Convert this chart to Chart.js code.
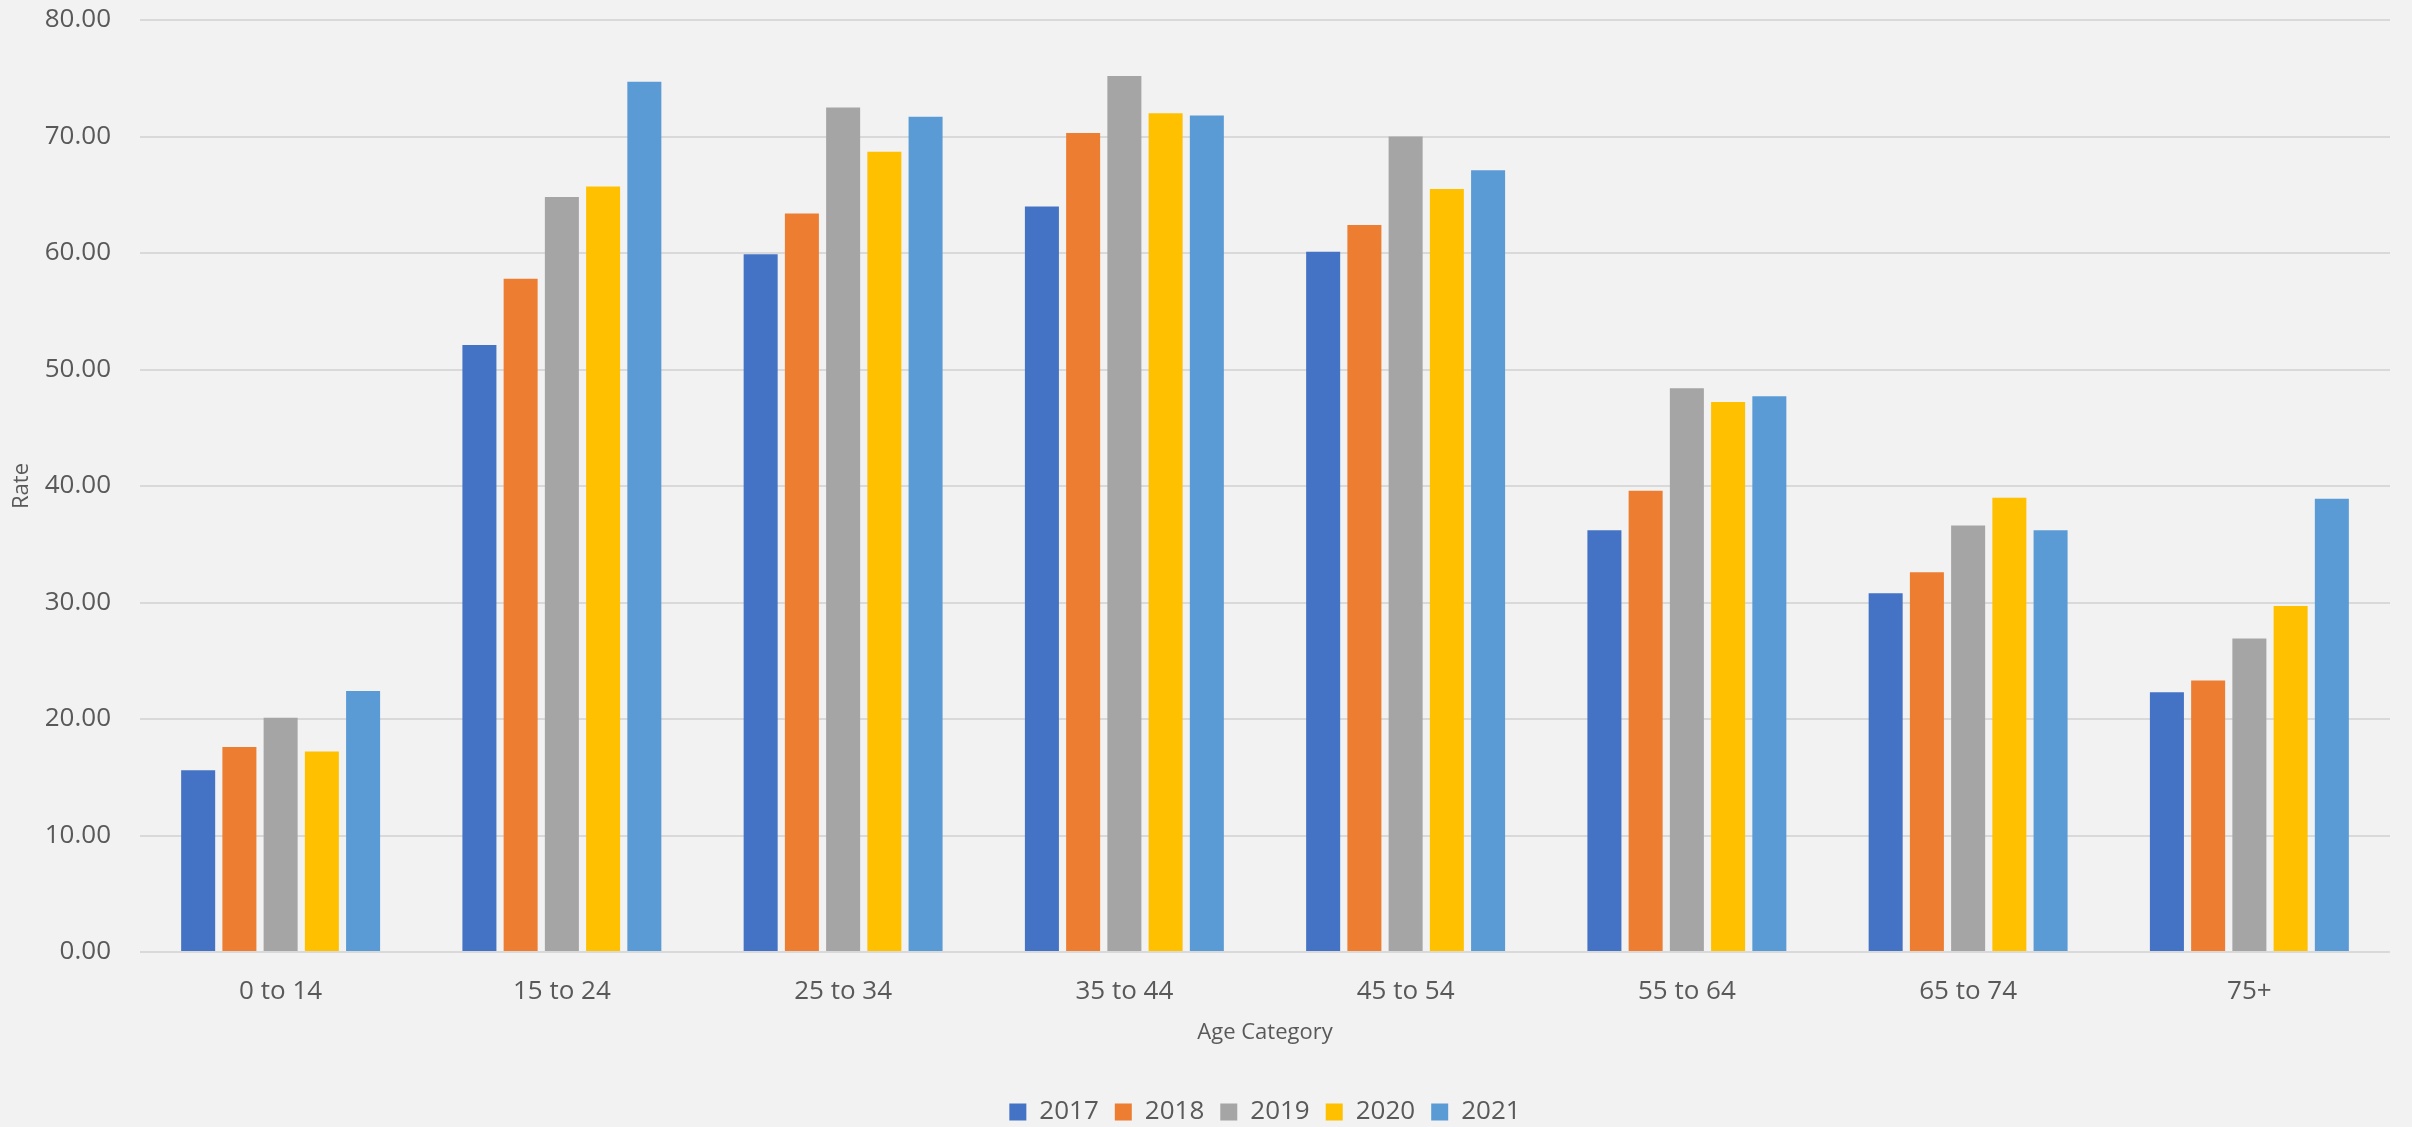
<!DOCTYPE html>
<html>
<head>
<meta charset="utf-8">
<script src="https://cdn.jsdelivr.net/npm/chart.js@4/dist/chart.umd.min.js"></script>
<style>
  html, body { margin: 0; padding: 0; background: #f2f2f2; }
  #wrap { width: 2412px; height: 1127px; }
</style>
</head>
<body>
<div id="wrap"><canvas id="c" width="2412" height="1127"></canvas></div>
<script>
const categories = ["0 to 14", "15 to 24", "25 to 34", "35 to 44", "45 to 54", "55 to 64", "65 to 74", "75+"];
const years = ["2017", "2018", "2019", "2020", "2021"];
const v2017 = [15.6, 52.1, 59.9, 64.0, 60.1, 36.2, 30.8, 22.3];
const v2018 = [17.6, 57.8, 63.4, 70.3, 62.4, 39.6, 32.6, 23.3];
const v2019 = [20.1, 64.8, 72.5, 75.2, 70.0, 48.4, 36.6, 26.9];
const v2020 = [17.2, 65.7, 68.7, 72.0, 65.5, 47.2, 39.0, 29.7];
const v2021 = [22.4, 74.7, 71.7, 71.8, 67.1, 47.7, 36.2, 38.9];
const yTicks = [0, 10, 20, 30, 40, 50, 60, 70, 80];
const colors = ["#4472c4", "#ed7d31", "#a5a5a5", "#ffc000", "#5b9bd5"];
const seriesValues = [v2017, v2018, v2019, v2020, v2021];

const textColor = "#595959";
const fontFamily = "'Open Sans', 'Noto Sans', sans-serif";

new Chart(document.getElementById("c"), {
  type: "bar",
  data: {
    labels: categories,
    datasets: years.map((y, i) => ({
      label: y,
      data: seriesValues[i],
      backgroundColor: colors[i],
      borderWidth: 0,
      categoryPercentage: 0.733,
      barPercentage: 0.825
    }))
  },
  options: {
    responsive: false,
    animation: false,
    devicePixelRatio: 1,
    layout: { padding: { top: 20, right: 22, bottom: -8, left: 0 } },
    plugins: {
      legend: {
        position: "bottom",
        fullSize: false,
        labels: {
          color: textColor,
          font: { family: fontFamily, size: 26 },
          boxWidth: 17,
          boxHeight: 17,
          padding: 16
        }
      },
      tooltip: { enabled: false }
    },
    scales: {
      x: {
        grid: { display: false, drawTicks: false },
        border: { display: false },
        ticks: {
          color: textColor,
          font: { family: fontFamily, size: 26 },
          padding: 24,
          maxRotation: 0
        },
        title: {
          display: true,
          text: "Age Category",
          color: textColor,
          font: { family: fontFamily, size: 22 },
          padding: { top: 0, bottom: 37 }
        },
        afterFit: s => { s.height = 131; }
      },
      y: {
        min: 0,
        max: 80,
        afterBuildTicks: s => { s.ticks = yTicks.map(v => ({ value: v })); },
        grid: { color: "#d9d9d9", lineWidth: 2, drawTicks: false },
        border: { display: false },
        ticks: {
          color: textColor,
          font: { family: fontFamily, size: 26 },
          padding: 29,
          callback: v => Number(v).toFixed(2)
        },
        title: {
          display: true,
          text: "Rate",
          color: textColor,
          font: { family: fontFamily, size: 22 },
          padding: { top: 9, bottom: 0 }
        },
        afterFit: s => { s.width = 140; s.paddingTop = 0; s.paddingBottom = 0; }
      }
    }
  }
});
</script>
</body>
</html>
